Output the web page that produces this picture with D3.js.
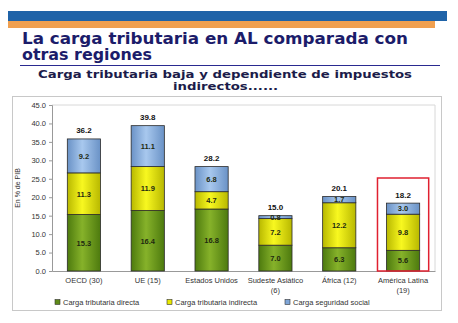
<!DOCTYPE html>
<html><head><meta charset="utf-8">
<script src="https://cdn.jsdelivr.net/npm/d3@7"></script>
<style>html,body{margin:0;padding:0;background:#fff;}svg{display:block;}</style>
</head><body><svg id="c" width="458" height="323"></svg>
<script>
const categories = [["OECD (30)"],["UE (15)"],["Estados Unidos"],["Sudeste Asiático","(6)"],["África (12)"],["América Latina","(19)"]];
const directa = [15.3, 16.4, 16.8, 7.0, 6.3, 5.6];
const indirecta = [11.3, 11.9, 4.7, 7.2, 12.2, 9.8];
const social = [9.2, 11.1, 6.8, 0.8, 1.7, 3.0];
const totals = [36.2, 39.8, 28.2, 15.0, 20.1, 18.2];
const yTicks = [0,5,10,15,20,25,30,35,40,45];
const seriesNames = ["Carga tributaria directa","Carga tributaria indirecta","Carga seguridad social"];

const svg = d3.select("#c");
const defs = svg.append("defs");
const grads = [
  {id:"gG", edge:"#4d7a0e", mid:"#86b22a"},
  {id:"gY", edge:"#b8b800", mid:"#f8f820"},
  {id:"gB", edge:"#6a92c6", mid:"#a8c8ee"}
];
grads.forEach(g=>{
  const lg = defs.append("linearGradient").attr("id",g.id).attr("x1","0").attr("x2","1").attr("y1","0").attr("y2","0");
  lg.append("stop").attr("offset","0").attr("stop-color",g.edge);
  lg.append("stop").attr("offset","0.45").attr("stop-color",g.mid);
  lg.append("stop").attr("offset","1").attr("stop-color",g.edge);
});
const legendColors = ["#5e8a18","#e8e800","#7fa6d8"];

// header bars
svg.append("rect").attr("x",8).attr("y",11).attr("width",439).attr("height",10).attr("fill","#1f63a8");
svg.append("rect").attr("x",8).attr("y",21).attr("width",427).attr("height",7).attr("fill","#f0a050");
svg.append("text").attr("x",22).attr("y",43.5).attr("font-family","DejaVu Sans, sans-serif").attr("font-weight","bold").attr("font-size",15.5).attr("fill","#1c1c6a")
  .attr("textLength",386).attr("lengthAdjust","spacingAndGlyphs").text("La carga tributaria en AL comparada con");
svg.append("text").attr("x",22).attr("y",60).attr("font-family","DejaVu Sans, sans-serif").attr("font-weight","bold").attr("font-size",15.5).attr("fill","#1c1c6a")
  .attr("textLength",130).attr("lengthAdjust","spacingAndGlyphs").text("otras regiones");
svg.append("line").attr("x1",20).attr("x2",440).attr("y1",65.5).attr("y2",65.5).attr("stroke","#2a2a90").attr("stroke-width",1.2);
svg.append("text").attr("x",38).attr("y",77.5).attr("font-family","DejaVu Sans, sans-serif").attr("font-weight","bold").attr("font-size",11).attr("fill","#1c1c4a")
  .attr("textLength",374).attr("lengthAdjust","spacingAndGlyphs").text("Carga tributaria baja y dependiente de impuestos");
svg.append("text").attr("x",173).attr("y",90).attr("font-family","DejaVu Sans, sans-serif").attr("font-weight","bold").attr("font-size",11).attr("fill","#1c1c4a")
  .attr("textLength",105).attr("lengthAdjust","spacingAndGlyphs").text("indirectos......");

// chart frame
svg.append("rect").attr("x",12.5).attr("y",96.5).attr("width",429).attr("height",214).attr("fill","#fff").attr("stroke","#c8c8c8");

const x = d3.scaleBand().domain(d3.range(categories.length)).range([52,435]).paddingInner(0.48).paddingOuter(0.24);
const y = d3.scaleLinear().domain([0,45]).range([271,105]);

// plot border top/right
svg.append("path").attr("d",`M52,${y(45)}H435V${y(0)}`).attr("fill","none").attr("stroke","#d8d8d8");

const yAxis = d3.axisLeft(y).tickValues(yTicks).tickFormat(d3.format(".1f")).tickSize(3);
const ga = svg.append("g").attr("transform","translate(52,0)").call(yAxis);
ga.selectAll("text").attr("font-family","Liberation Sans, Arial, sans-serif").attr("font-size",7.5).attr("fill","#333");
ga.selectAll("line,path").attr("stroke","#999");

const xAxis = d3.axisBottom(x).tickSize(0).tickFormat("");
const gx = svg.append("g").attr("transform",`translate(0,${y(0)})`).call(xAxis);
gx.selectAll("path").attr("stroke","#999");

svg.append("text").attr("transform","translate(20,188) rotate(-90)").attr("text-anchor","middle")
  .attr("font-family","Liberation Sans, Arial, sans-serif").attr("font-size",7).attr("fill","#333").text("En % de PIB");

// stacked bars
const rows = categories.map((c,i)=>({i, d:directa[i], n:indirecta[i], s:social[i]}));
const stack = d3.stack().keys(["d","n","s"])(rows);
const fills = ["url(#gG)","url(#gY)","url(#gB)"];
stack.forEach((layer,k)=>{
  svg.append("g").selectAll("rect").data(layer).join("rect")
    .attr("x",d=>x(d.data.i)).attr("width",x.bandwidth())
    .attr("y",d=>y(d[1])).attr("height",d=>y(d[0])-y(d[1]))
    .attr("fill",fills[k]).attr("stroke","#2a2a2a").attr("stroke-width",0.8);
  svg.append("g").selectAll("text").data(layer).join("text")
    .attr("x",d=>x(d.data.i)+x.bandwidth()/2)
    .attr("y",d=>(y(d[0])+y(d[1]))/2+2.8)
    .attr("text-anchor","middle").attr("font-family","Liberation Sans, Arial, sans-serif")
    .attr("font-weight","bold").attr("font-size",7.5).attr("fill","#1e2a10")
    .text(d=>d3.format(".1f")(d[1]-d[0]));
});
// totals
svg.append("g").selectAll("text").data(rows).join("text")
  .attr("x",d=>x(d.i)+x.bandwidth()/2)
  .attr("y",d=>y(d.d+d.n+d.s)-5.5)
  .attr("text-anchor","middle").attr("font-family","Liberation Sans, Arial, sans-serif")
  .attr("font-weight","bold").attr("font-size",8).attr("fill","#111")
  .text(d=>d3.format(".1f")(totals[d.i]));

// x labels
categories.forEach((c,i)=>{
  c.forEach((line,j)=>{
    svg.append("text").attr("x",x(i)+x.bandwidth()/2).attr("y",283+j*9.5).attr("text-anchor","middle")
      .attr("font-family","Liberation Sans, Arial, sans-serif").attr("font-size",7.5).attr("fill","#333").text(line);
  });
});

// highlight AL
const last = categories.length-1;
svg.append("rect").attr("x",x(last)-9).attr("y",y(0)-93).attr("width",x.bandwidth()+18).attr("height",93)
  .attr("fill","none").attr("stroke","#e02030").attr("stroke-width",1.5);

// legend
const lx = [55,167,285];
seriesNames.forEach((n,k)=>{
  svg.append("rect").attr("x",lx[k]).attr("y",299.5).attr("width",5).attr("height",5).attr("fill",legendColors[k]).attr("stroke","#333").attr("stroke-width",0.6);
  svg.append("text").attr("x",lx[k]+8).attr("y",305).attr("font-family","Liberation Sans, Arial, sans-serif").attr("font-size",7.5).attr("fill","#333").text(n);
});
</script></body></html>
